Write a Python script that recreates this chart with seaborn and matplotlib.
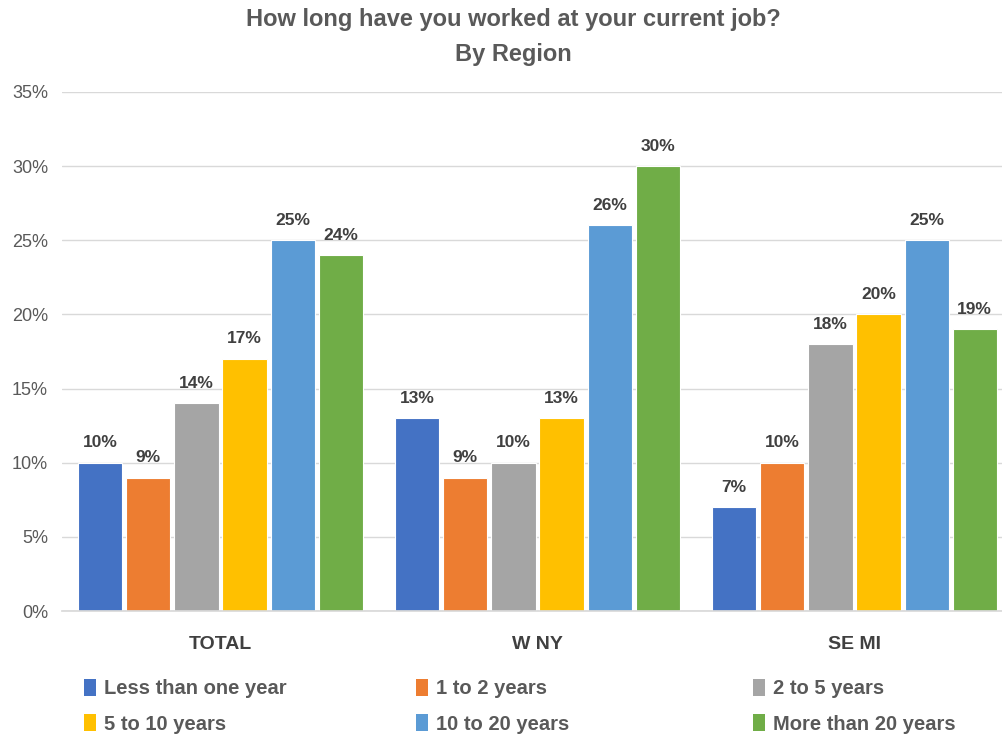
import matplotlib
matplotlib.use("Agg")
import matplotlib.pyplot as plt
from matplotlib.patches import Patch
import seaborn as sns
import pandas as pd

regions = ["TOTAL", "W NY", "SE MI"]
tenures = ["Less than one year", "1 to 2 years", "2 to 5 years",
           "5 to 10 years", "10 to 20 years", "More than 20 years"]
less_than_one = [10, 13, 7]
one_to_two = [9, 9, 10]
two_to_five = [14, 10, 18]
five_to_ten = [17, 13, 20]
ten_to_twenty = [25, 26, 25]
over_twenty = [24, 30, 19]
colors = ["#4472C4", "#ED7D31", "#A5A5A5", "#FFC000", "#5B9BD5", "#70AD47"]

series = [less_than_one, one_to_two, two_to_five, five_to_ten, ten_to_twenty, over_twenty]
rows = []
for name, vals in zip(tenures, series):
    for reg, v in zip(regions, vals):
        rows.append({"Region": reg, "Tenure": name, "Share": v / 100})
df = pd.DataFrame(rows)

sns.set_theme(style="white")
plt.rcParams["font.family"] = ["Liberation Sans", "DejaVu Sans"]

fig = plt.figure(figsize=(10.03, 7.4), dpi=100)
ax = fig.add_axes([62 / 1003, 1 - 611 / 740, (1013 - 62) / 1003, (611 - 92) / 740])

sns.barplot(data=df, x="Region", y="Share", hue="Tenure", order=regions,
            hue_order=tenures, palette=colors, saturation=1, width=0.91, gap=0.08,
            edgecolor="white", linewidth=0.8, ax=ax, legend=False)

ax.set_ylim(0, 0.35)
ax.set_xlim(-0.5, 2.5)
ax.set_yticks([i * 0.05 for i in range(8)])
ax.set_yticklabels([f"{i * 5}%" for i in range(8)], fontsize=13, color="#595959")
ax.yaxis.grid(True, color="#D9D9D9", linewidth=1)
ax.set_axisbelow(True)
for s in ["top", "right", "left"]:
    ax.spines[s].set_visible(False)
ax.spines["bottom"].set_color("#D9D9D9")
ax.tick_params(axis="both", length=0)
ax.tick_params(axis="y", pad=10)
ax.tick_params(axis="x", pad=18)
for lbl in ax.get_xticklabels():
    lbl.set_fontsize(14)
    lbl.set_fontweight("bold")
    lbl.set_color("#404040")
ax.set_xlabel("")
ax.set_ylabel("")

for cont in ax.containers:
    ax.bar_label(cont, labels=[f"{round(b.get_height() * 100)}%" for b in cont],
                 padding=9, fontsize=12.5, fontweight="bold", color="#404040")

fig.text(0.512, 1 - 8 / 740, "How long have you worked at your current job?\nBy Region",
         ha="center", va="top", fontsize=17, fontweight="bold", color="#595959",
         linespacing=1.65)

# legend: three columns, two rows, filled row by row
col_x = [76, 408, 745]
for c in range(3):
    idx = [c, c + 3]
    leg = fig.legend([Patch(facecolor=colors[i], edgecolor="none") for i in idx],
                     [tenures[i] for i in idx], loc="upper left",
                     bbox_to_anchor=(col_x[c] / 1003, 1 - 671 / 740), frameon=False,
                     prop={"size": 14.5, "weight": "bold"},
                     handlelength=0.6, handleheight=0.9, handletextpad=0.4,
                     labelspacing=0.8, borderaxespad=0)
    for t in leg.get_texts():
        t.set_color("#595959")

fig.savefig("out.png", dpi=100)
